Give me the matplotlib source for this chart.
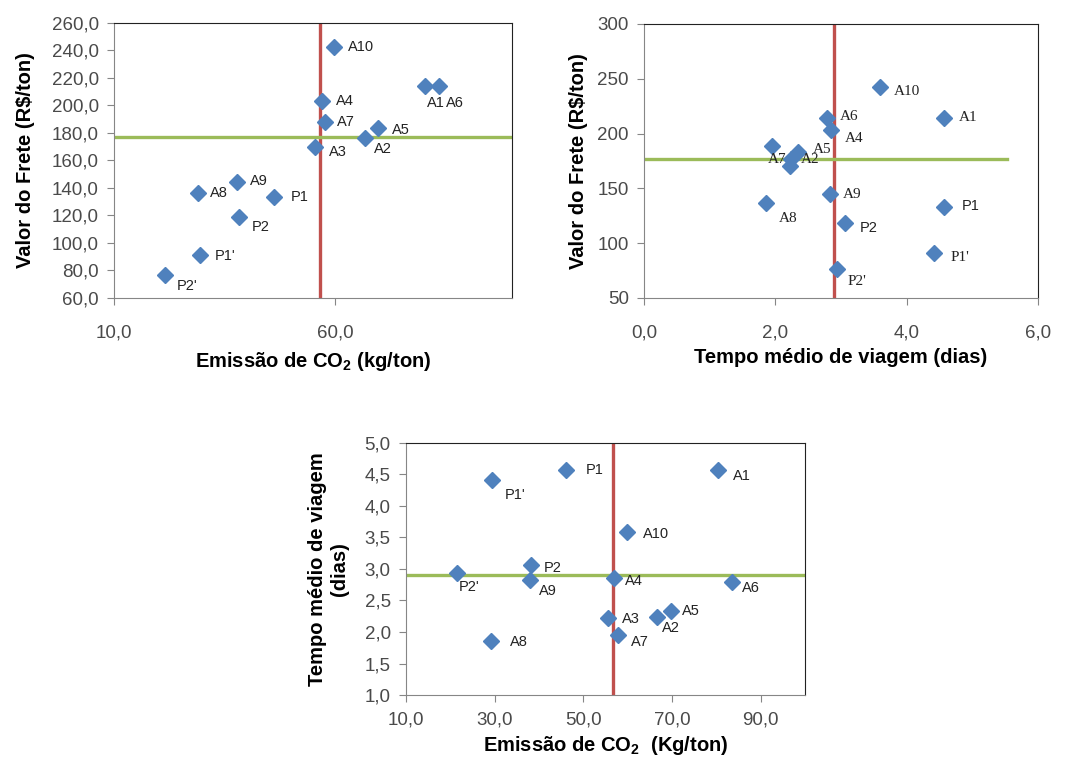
import matplotlib
matplotlib.use("Agg")
import matplotlib.pyplot as plt
from matplotlib.ticker import FuncFormatter

plt.rcParams['font.family'] = ['Liberation Sans', 'DejaVu Sans']
plt.rcParams['mathtext.fontset'] = 'custom'
plt.rcParams['mathtext.rm'] = 'Liberation Sans'
plt.rcParams['mathtext.bf'] = 'Liberation Sans:bold'

# Alternativas / pontos
nomes = ["A1", "A2", "A3", "A4", "A5", "A6", "A7", "A8", "A9", "A10",
         "P1", "P2", "P1'", "P2'"]
emissao = [80.3, 66.7, 55.5, 57.0, 69.8, 83.5, 57.8, 29.1, 37.9, 59.8,
           46.1, 38.2, 29.5, 21.5]
frete = [214.5, 176.6, 170.1, 203.0, 183.5, 214.3, 188.2, 136.5, 144.5, 242.3,
         133.3, 118.8, 91.4, 76.4]
tempo = [4.57, 2.24, 2.22, 2.85, 2.34, 2.79, 1.95, 1.86, 2.83, 3.59,
         4.57, 3.06, 4.42, 2.94]

# Médias (linhas de referência)
media_emissao = 56.7
media_frete = 177.0
media_tempo = 2.9

azul = "#4F81BD"
vermelho = "#C0504D"
verde = "#9BBB59"
cinza_txt = "#4a4a4a"

# Deslocamento dos rótulos (pixels)
off_tl = {"A1": (2, -17), "A2": (9, -11), "A3": (14, -5), "A4": (14, 0), "A5": (14, -2),
          "A6": (7, -17), "A7": (12, 0), "A8": (12, 0), "A9": (13, 1), "A10": (14, 0),
          "P1": (17, 0), "P2": (13, -10), "P1'": (15, -1), "P2'": (12, -11)}
off_tr = {"A1": (15, 0), "A2": (10, 0), "A3": None, "A4": (14, -8), "A5": (15, 2),
          "A6": (13, 1), "A7": (-4, -13), "A8": (13, -15), "A9": (13, 0), "A10": (14, -4),
          "P1": (18, 1), "P2": (15, -5), "P1'": (16, -5), "P2'": (10, -12)}
off_b = {"A1": (15, -6), "A2": (5, -11), "A3": (14, -1), "A4": (11, -3), "A5": (11, 0),
         "A6": (10, -6), "A7": (13, -7), "A8": (19, -1), "A9": (9, -11), "A10": (16, -2),
         "P1": (20, 0), "P2": (13, -3), "P1'": (12, -15), "P2'": (2, -14)}


def virgula(casas):
    return FuncFormatter(lambda v, p: f"{v:.{casas}f}".replace(".", ","))


def estilo(ax, xpad):
    for s in ["left", "bottom"]:
        ax.spines[s].set_color("#868686")
    for s in ["top", "right"]:
        ax.spines[s].set_color("#222222")
    ax.tick_params(direction="out", length=5, color="#868686",
                   labelsize=13.5, labelcolor=cinza_txt)
    ax.tick_params(axis="y", pad=6)
    ax.tick_params(axis="x", pad=xpad)


def pontos(ax, x, y, offsets, serif=False):
    ax.plot(x, y, linestyle="none", marker="D", markersize=8.5, color=azul, zorder=3)
    for nome, xi, yi in zip(nomes, x, y):
        off = offsets.get(nome)
        if off is None:
            continue
        if serif and nome not in ("P1", "P2"):
            fam, tam = ["Liberation Serif"], 11
        else:
            fam, tam = None, 10.5
        ax.annotate(nome, (xi, yi), xytext=off, textcoords="offset pixels",
                    ha="left", va="center", fontsize=tam, color="#222222",
                    family=fam, zorder=4)


fig = plt.figure(figsize=(10.75, 7.58), dpi=100)

# Gráfico 1: Emissão x Frete
ax1 = fig.add_axes([0.1060, 0.6069, 0.3702, 0.3628])
ax1.axvline(media_emissao, color=vermelho, linewidth=2.4, zorder=2)
ax1.axhline(media_frete, color=verde, linewidth=2.4, zorder=2)
pontos(ax1, emissao, frete, off_tl)
ax1.set_xlim(10, 100)
ax1.set_ylim(60, 260)
ax1.set_xticks([10, 60])
ax1.set_yticks(range(60, 261, 20))
ax1.xaxis.set_major_formatter(virgula(1))
ax1.yaxis.set_major_formatter(virgula(1))
ax1.set_xlabel(r"Emissão de CO$_{\mathbf{2}}$ (kg/ton)", fontsize=14.5, fontweight="bold",
               labelpad=6)
ax1.set_ylabel("Valor do Frete (R$/ton)", fontsize=14.5, fontweight="bold", labelpad=12)
estilo(ax1, 14)

# Gráfico 2: Tempo x Frete
ax2 = fig.add_axes([0.5991, 0.6069, 0.3665, 0.3615])
ax2.axvline(media_tempo, color=vermelho, linewidth=2.4, zorder=2)
ax2.plot([0, 5.52], [media_frete, media_frete], color=verde, linewidth=2.4, zorder=2)
pontos(ax2, tempo, frete, off_tr, serif=True)
ax2.set_xlim(0, 6)
ax2.set_ylim(50, 300)
ax2.set_xticks([0, 2, 4, 6])
ax2.set_yticks(range(50, 301, 50))
ax2.xaxis.set_major_formatter(virgula(1))
ax2.set_xlabel("Tempo médio de viagem (dias)", fontsize=14.5, fontweight="bold", labelpad=5)
ax2.set_ylabel("Valor do Frete (R$/ton)", fontsize=14.5, fontweight="bold", labelpad=7)
estilo(ax2, 14)

# Gráfico 3: Emissão x Tempo
ax3 = fig.add_axes([0.3777, 0.0831, 0.3712, 0.3325])
ax3.axvline(media_emissao, color=vermelho, linewidth=2.4, zorder=2)
ax3.axhline(media_tempo, color=verde, linewidth=2.4, zorder=2)
pontos(ax3, emissao, tempo, off_b)
ax3.set_xlim(10, 100)
ax3.set_ylim(1, 5)
ax3.set_xticks(range(10, 91, 20))
ax3.set_yticks([1, 1.5, 2, 2.5, 3, 3.5, 4, 4.5, 5])
ax3.xaxis.set_major_formatter(virgula(1))
ax3.yaxis.set_major_formatter(virgula(1))
ax3.set_xlabel(r"Emissão de CO$_{\mathbf{2}}$  (Kg/ton)", fontsize=14.5, fontweight="bold",
               labelpad=4)
ax3.set_ylabel("Tempo médio de viagem\n(dias)", fontsize=14.5, fontweight="bold",
               linespacing=1.25, labelpad=11)
estilo(ax3, 7)

fig.savefig("out.png", dpi=100)
